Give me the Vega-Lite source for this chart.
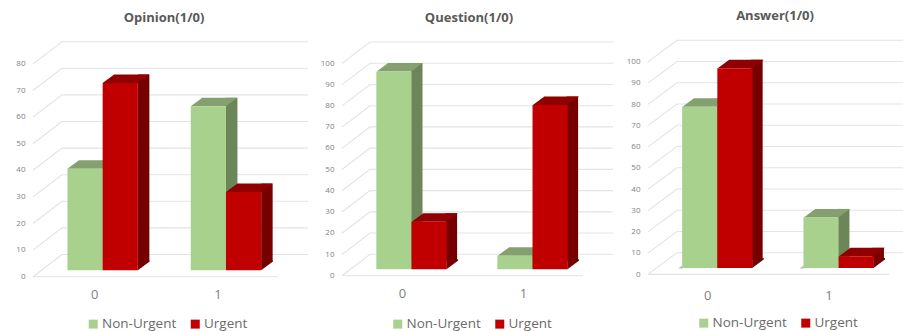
{"$schema":"https://vega.github.io/schema/vega-lite/v6.json","padding":0,"spacing":0,"bounds":"flush","background":"white","config":{"view":{"stroke":null},"font":"Open Sans"},"datasets":{"opinion":[{"category":"0","series":"Non-Urgent","value":38.2},{"category":"0","series":"Urgent","value":70.4},{"category":"1","series":"Non-Urgent","value":61.7},{"category":"1","series":"Urgent","value":29.4}],"question":[{"category":"0","series":"Non-Urgent","value":93.2},{"category":"0","series":"Urgent","value":22.4},{"category":"1","series":"Non-Urgent","value":6.4},{"category":"1","series":"Urgent","value":77.4}],"answer":[{"category":"0","series":"Non-Urgent","value":75.9},{"category":"0","series":"Urgent","value":94},{"category":"1","series":"Non-Urgent","value":23.8},{"category":"1","series":"Urgent","value":5.5}],"ticks80":[{"category":"0","tick":0},{"category":"0","tick":10},{"category":"0","tick":20},{"category":"0","tick":30},{"category":"0","tick":40},{"category":"0","tick":50},{"category":"0","tick":60},{"category":"0","tick":70},{"category":"0","tick":80}],"ticks100":[{"category":"0","tick":0},{"category":"0","tick":10},{"category":"0","tick":20},{"category":"0","tick":30},{"category":"0","tick":40},{"category":"0","tick":50},{"category":"0","tick":60},{"category":"0","tick":70},{"category":"0","tick":80},{"category":"0","tick":90},{"category":"0","tick":100}],"floor":[{"category":"0","tick":0}]},"resolve":{"scale":{"color":"independent"},"legend":{"color":"independent"}},"hconcat":[{"width":301,"height":331,"title":{"text":"Opinion(1/0)","anchor":"middle","dx":13.5,"offset":-25,"fontSize":13,"fontWeight":"bold","color":"#595959"},"data":{"name":"opinion"},"encoding":{"x":{"field":"category","type":"nominal","scale":{"domain":["0","1"],"range":[41,287.6],"paddingInner":0.429,"paddingOuter":0.2145},"axis":{"title":null,"domain":false,"ticks":false,"labelAngle":0,"labelPadding":0,"offset":-43,"labelOffset":-8,"labelFontSize":13,"labelColor":"#7f7f7f"}},"xOffset":{"field":"series","type":"nominal","scale":{"domain":["Non-Urgent","Urgent"],"paddingInner":0,"paddingOuter":0}},"y":{"field":"value","type":"quantitative","scale":{"domain":[0,80],"range":[270.3,57.5],"nice":false},"axis":{"title":null,"values":[0,10,20,30,40,50,60,70,80],"domain":false,"ticks":false,"grid":false,"labelPadding":0,"offset":-25,"labelOffset":6,"labelFontSize":8,"labelColor":"#7f7f7f"}}},"layer":[{"data":{"name":"ticks80"},"mark":{"type":"point","filled":false,"fill":null,"opacity":1,"size":4,"stroke":"#e3e3e3","strokeWidth":1.1,"shape":"M-69.7 6.4L-40.7 -15.8L205.3 -15.8"},"encoding":{"xOffset":null,"y":{"field":"tick","type":"quantitative"}}},{"data":{"name":"floor"},"mark":{"type":"point","filled":false,"fill":null,"opacity":1,"size":4,"stroke":"#e3e3e3","strokeWidth":1.1,"shape":"M-69.7 6.4L175.3 6.4"},"encoding":{"xOffset":null,"y":{"field":"tick","type":"quantitative"}}},{"transform":[{"filter":"datum.series==='Non-Urgent'"}],"mark":{"type":"rule","strokeWidth":11.5,"xOffset":5.75,"yOffset":-8.5,"y2Offset":-8.5,"stroke":"#6C8559"},"encoding":{"xOffset":null,"y2":{"datum":0}}},{"transform":[{"filter":"datum.series==='Non-Urgent'"}],"mark":{"type":"point","filled":true,"opacity":1,"size":4,"fill":"#6C8559","shape":"M17.6 0L29.1 -8.5L29.1 -10L17.6 -10Z"},"encoding":{"y":{"datum":0}}},{"transform":[{"filter":"datum.series==='Non-Urgent'"}],"mark":{"type":"point","filled":true,"opacity":1,"size":4,"fill":"#84A06F","shape":"M-17.6 0L-6.1 -8.5L29.1 -8.5L17.6 0Z"}},{"transform":[{"filter":"datum.series==='Non-Urgent'"}],"mark":{"type":"bar"},"encoding":{"color":{"field":"series","type":"nominal","scale":{"domain":["Non-Urgent","Urgent"],"range":["#A9D18E","#C00000"]},"legend":{"title":null,"orient":"none","legendX":86.5,"legendY":317,"direction":"horizontal","columns":2,"columnPadding":12,"symbolType":"square","symbolSize":81,"symbolStrokeWidth":0,"symbolOpacity":1,"labelFontSize":13.5,"labelColor":"#6a6a6a","labelOffset":2}}}},{"transform":[{"filter":"datum.series==='Urgent'"}],"mark":{"type":"rule","strokeWidth":11.5,"xOffset":40.95,"yOffset":-8.5,"y2Offset":-8.5,"stroke":"#760000"},"encoding":{"xOffset":null,"y2":{"datum":0}}},{"transform":[{"filter":"datum.series==='Urgent'"}],"mark":{"type":"point","filled":true,"opacity":1,"size":4,"fill":"#760000","shape":"M17.6 0L29.1 -8.5L29.1 -10L17.6 -10Z"},"encoding":{"y":{"datum":0}}},{"transform":[{"filter":"datum.series==='Urgent'"}],"mark":{"type":"point","filled":true,"opacity":1,"size":4,"fill":"#900000","shape":"M-17.6 0L-6.1 -8.5L29.1 -8.5L17.6 0Z"}},{"transform":[{"filter":"datum.series==='Urgent'"}],"mark":{"type":"bar"},"encoding":{"color":{"field":"series","type":"nominal","scale":{"domain":["Non-Urgent","Urgent"],"range":["#A9D18E","#C00000"]},"legend":{"title":null,"orient":"none","legendX":86.5,"legendY":317,"direction":"horizontal","columns":2,"columnPadding":12,"symbolType":"square","symbolSize":81,"symbolStrokeWidth":0,"symbolOpacity":1,"labelFontSize":13.5,"labelColor":"#6a6a6a","labelOffset":2}}}}]},{"width":301,"height":331,"title":{"text":"Question(1/0)","anchor":"middle","dx":17.5,"offset":-25,"fontSize":13,"fontWeight":"bold","color":"#595959"},"data":{"name":"question"},"encoding":{"x":{"field":"category","type":"nominal","scale":{"domain":["0","1"],"range":[49.5,291.5],"paddingInner":0.427,"paddingOuter":0.2135},"axis":{"title":null,"domain":false,"ticks":false,"labelAngle":0,"labelPadding":0,"offset":-43.5,"labelOffset":-8.5,"labelFontSize":13,"labelColor":"#7f7f7f"}},"xOffset":{"field":"series","type":"nominal","scale":{"domain":["Non-Urgent","Urgent"],"paddingInner":0,"paddingOuter":0}},"y":{"field":"value","type":"quantitative","scale":{"domain":[0,100],"range":[269.3,57],"nice":false},"axis":{"title":null,"values":[0,10,20,30,40,50,60,70,80,90,100],"domain":false,"ticks":false,"grid":false,"labelPadding":0,"offset":-33,"labelOffset":6,"labelFontSize":8,"labelColor":"#7f7f7f"}}},"layer":[{"data":{"name":"ticks100"},"mark":{"type":"point","filled":false,"fill":null,"opacity":1,"size":4,"stroke":"#e3e3e3","strokeWidth":1.1,"shape":"M-69 6.4L-41 -15L202 -15"},"encoding":{"xOffset":null,"y":{"field":"tick","type":"quantitative"}}},{"data":{"name":"floor"},"mark":{"type":"point","filled":false,"fill":null,"opacity":1,"size":4,"stroke":"#e3e3e3","strokeWidth":1.1,"shape":"M-69 6.4L172 6.4"},"encoding":{"xOffset":null,"y":{"field":"tick","type":"quantitative"}}},{"transform":[{"filter":"datum.series==='Non-Urgent'"}],"mark":{"type":"rule","strokeWidth":11.5,"xOffset":5.75,"yOffset":-8.5,"y2Offset":-8.5,"stroke":"#6C8559"},"encoding":{"xOffset":null,"y2":{"datum":0}}},{"transform":[{"filter":"datum.series==='Non-Urgent'"}],"mark":{"type":"point","filled":true,"opacity":1,"size":4,"fill":"#6C8559","shape":"M17.3 0L28.8 -8.5L28.8 -10L17.3 -10Z"},"encoding":{"y":{"datum":0}}},{"transform":[{"filter":"datum.series==='Non-Urgent'"}],"mark":{"type":"point","filled":true,"opacity":1,"size":4,"fill":"#84A06F","shape":"M-17.3 0L-5.8 -8.5L28.8 -8.5L17.3 0Z"}},{"transform":[{"filter":"datum.series==='Non-Urgent'"}],"mark":{"type":"bar"},"encoding":{"color":{"field":"series","type":"nominal","scale":{"domain":["Non-Urgent","Urgent"],"range":["#A9D18E","#C00000"]},"legend":{"title":null,"orient":"none","legendX":90,"legendY":317,"direction":"horizontal","columns":2,"columnPadding":12,"symbolType":"square","symbolSize":81,"symbolStrokeWidth":0,"symbolOpacity":1,"labelFontSize":13.5,"labelColor":"#6a6a6a","labelOffset":2}}}},{"transform":[{"filter":"datum.series==='Urgent'"}],"mark":{"type":"rule","strokeWidth":11.5,"xOffset":40.35,"yOffset":-8.5,"y2Offset":-8.5,"stroke":"#760000"},"encoding":{"xOffset":null,"y2":{"datum":0}}},{"transform":[{"filter":"datum.series==='Urgent'"}],"mark":{"type":"point","filled":true,"opacity":1,"size":4,"fill":"#760000","shape":"M17.3 0L28.8 -8.5L28.8 -10L17.3 -10Z"},"encoding":{"y":{"datum":0}}},{"transform":[{"filter":"datum.series==='Urgent'"}],"mark":{"type":"point","filled":true,"opacity":1,"size":4,"fill":"#900000","shape":"M-17.3 0L-5.8 -8.5L28.8 -8.5L17.3 0Z"}},{"transform":[{"filter":"datum.series==='Urgent'"}],"mark":{"type":"bar"},"encoding":{"color":{"field":"series","type":"nominal","scale":{"domain":["Non-Urgent","Urgent"],"range":["#A9D18E","#C00000"]},"legend":{"title":null,"orient":"none","legendX":90,"legendY":317,"direction":"horizontal","columns":2,"columnPadding":12,"symbolType":"square","symbolSize":81,"symbolStrokeWidth":0,"symbolOpacity":1,"labelFontSize":13.5,"labelColor":"#6a6a6a","labelOffset":2}}}}]},{"width":301,"height":331,"title":{"text":"Answer(1/0)","anchor":"middle","dx":22.5,"offset":-23,"fontSize":13,"fontWeight":"bold","color":"#595959"},"data":{"name":"answer"},"encoding":{"x":{"field":"category","type":"nominal","scale":{"domain":["0","1"],"range":[54,296.6],"paddingInner":0.431,"paddingOuter":0.2155},"axis":{"title":null,"domain":false,"ticks":false,"labelAngle":0,"labelPadding":0,"offset":-42,"labelOffset":-9,"labelFontSize":13,"labelColor":"#7f7f7f"}},"xOffset":{"field":"series","type":"nominal","scale":{"domain":["Non-Urgent","Urgent"],"paddingInner":0,"paddingOuter":0}},"y":{"field":"value","type":"quantitative","scale":{"domain":[0,100],"range":[268,55.5],"nice":false},"axis":{"title":null,"values":[0,10,20,30,40,50,60,70,80,90,100],"domain":false,"ticks":false,"grid":false,"labelPadding":0,"offset":-38,"labelOffset":6,"labelFontSize":8,"labelColor":"#7f7f7f"}}},"layer":[{"data":{"name":"ticks100"},"mark":{"type":"point","filled":false,"fill":null,"opacity":1,"size":4,"stroke":"#e3e3e3","strokeWidth":1.1,"shape":"M-68.7 6.4L-39.7 -15.3L186.3 -15.3"},"encoding":{"xOffset":null,"y":{"field":"tick","type":"quantitative"}}},{"data":{"name":"floor"},"mark":{"type":"point","filled":false,"fill":null,"opacity":1,"size":4,"stroke":"#e3e3e3","strokeWidth":1.1,"shape":"M-68.7 6.4L172.3 6.4"},"encoding":{"xOffset":null,"y":{"field":"tick","type":"quantitative"}}},{"transform":[{"filter":"datum.series==='Non-Urgent'"}],"mark":{"type":"point","filled":true,"opacity":1,"size":4,"fill":"#b5b5b5","shape":"M-17.25 0.5L-21.5 0.5L-17.25 -2.5Z"},"encoding":{"y":{"datum":0}}},{"transform":[{"filter":"datum.series==='Non-Urgent'"}],"mark":{"type":"rule","strokeWidth":11.5,"xOffset":5.75,"yOffset":-8.5,"y2Offset":-8.5,"stroke":"#6C8559"},"encoding":{"xOffset":null,"y2":{"datum":0}}},{"transform":[{"filter":"datum.series==='Non-Urgent'"}],"mark":{"type":"point","filled":true,"opacity":1,"size":4,"fill":"#6C8559","shape":"M17.25 0L28.75 -8.5L28.75 -10L17.25 -10Z"},"encoding":{"y":{"datum":0}}},{"transform":[{"filter":"datum.series==='Non-Urgent'"}],"mark":{"type":"point","filled":true,"opacity":1,"size":4,"fill":"#84A06F","shape":"M-17.25 0L-5.75 -8.5L28.75 -8.5L17.25 0Z"}},{"transform":[{"filter":"datum.series==='Non-Urgent'"}],"mark":{"type":"bar"},"encoding":{"color":{"field":"series","type":"nominal","scale":{"domain":["Non-Urgent","Urgent"],"range":["#A9D18E","#C00000"]},"legend":{"title":null,"orient":"none","legendX":95,"legendY":316,"direction":"horizontal","columns":2,"columnPadding":12,"symbolType":"square","symbolSize":81,"symbolStrokeWidth":0,"symbolOpacity":1,"labelFontSize":13.5,"labelColor":"#6a6a6a","labelOffset":2}}}},{"transform":[{"filter":"datum.series==='Urgent'"}],"mark":{"type":"rule","strokeWidth":11.5,"xOffset":40.25,"yOffset":-8.5,"y2Offset":-8.5,"stroke":"#760000"},"encoding":{"xOffset":null,"y2":{"datum":0}}},{"transform":[{"filter":"datum.series==='Urgent'"}],"mark":{"type":"point","filled":true,"opacity":1,"size":4,"fill":"#760000","shape":"M17.25 0L28.75 -8.5L28.75 -10L17.25 -10Z"},"encoding":{"y":{"datum":0}}},{"transform":[{"filter":"datum.series==='Urgent'"}],"mark":{"type":"point","filled":true,"opacity":1,"size":4,"fill":"#900000","shape":"M-17.25 0L-5.75 -8.5L28.75 -8.5L17.25 0Z"}},{"transform":[{"filter":"datum.series==='Urgent'"}],"mark":{"type":"bar"},"encoding":{"color":{"field":"series","type":"nominal","scale":{"domain":["Non-Urgent","Urgent"],"range":["#A9D18E","#C00000"]},"legend":{"title":null,"orient":"none","legendX":95,"legendY":316,"direction":"horizontal","columns":2,"columnPadding":12,"symbolType":"square","symbolSize":81,"symbolStrokeWidth":0,"symbolOpacity":1,"labelFontSize":13.5,"labelColor":"#6a6a6a","labelOffset":2}}}}]}]}
